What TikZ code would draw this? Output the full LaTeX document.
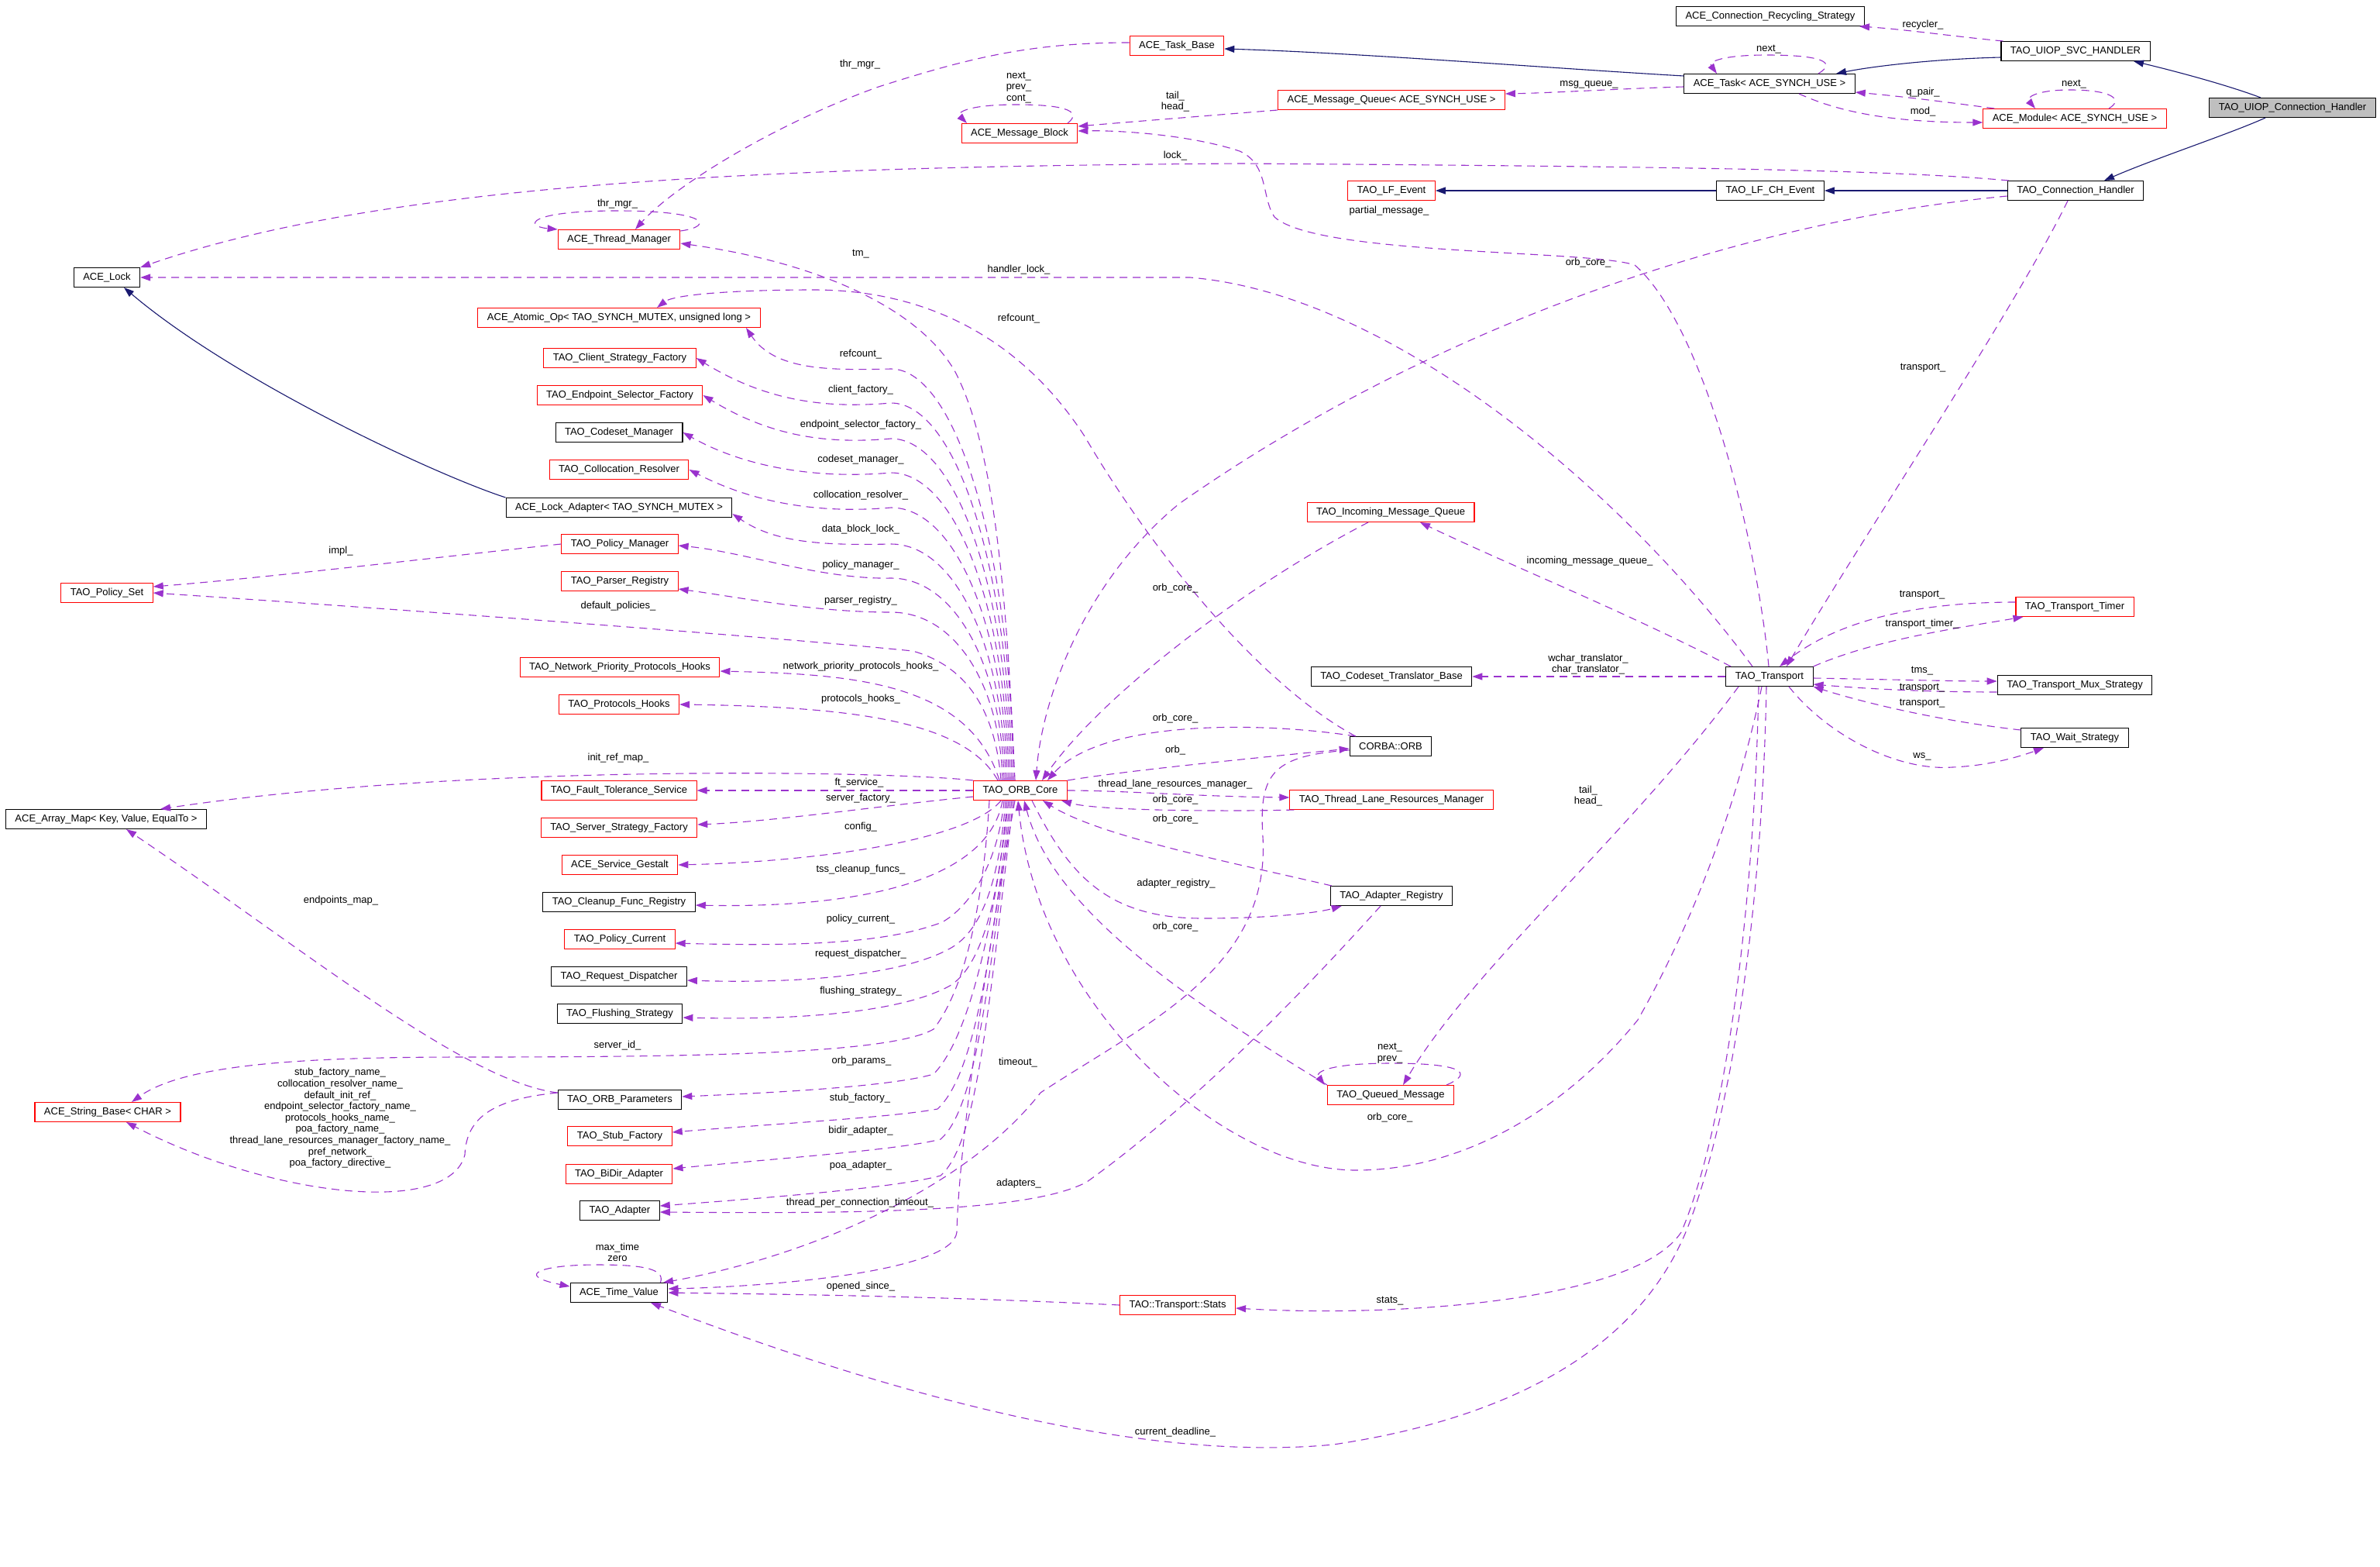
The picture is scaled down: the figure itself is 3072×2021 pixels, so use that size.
\documentclass[tikz,border=0pt]{standalone}
\usepackage{fontspec}
\setmainfont{Liberation Sans}
\usetikzlibrary{arrows.meta}

\definecolor{orchidline}{RGB}{154,50,205}
\definecolor{navyline}{RGB}{25,25,112}
\definecolor{curfill}{RGB}{191,191,191}
\newcommand{\dotfont}{\fontsize{13}{14.6}\selectfont}

\tikzset{
  cls/.style={draw=black, fill=white, line width=1.05pt, minimum height=25pt,
    inner xsep=12pt, inner ysep=2pt, font=\dotfont},
  redcls/.style={cls, draw=red},
  curcls/.style={cls, fill=curfill},
  member/.style={draw=orchidline, line width=1.1pt, dash pattern=on 10pt off 7pt,
    -{Triangle[length=13pt,width=9pt]}},
  inherit/.style={draw=navyline, line width=1.1pt, -{Triangle[length=13pt,width=9pt]}},
  lbl/.style={font=\dotfont, inner sep=0pt, align=center}
}

\begin{document}
\begin{tikzpicture}[x=1pt, y=-1pt]

\useasboundingbox (0,0) rectangle (3072,2021);
\fill[white] (0,0) rectangle (3072,2021);

%%%%%%%%%%%%%%%%%%%%%%%%%%%%%%% classes, top right
\node[cls] (recyc) at (2285,21) {ACE\_Connection\_Recycling\_Strategy};
\node[cls] (svch) at (2679,66) {TAO\_UIOP\_SVC\_HANDLER};
\node[cls] (task) at (2284,108) {ACE\_Task< ACE\_SYNCH\_USE >};
\node[redcls] (module) at (2678,153) {ACE\_Module< ACE\_SYNCH\_USE >};
\node[curcls] (uiopch) at (2959,139) {TAO\_UIOP\_Connection\_Handler};
\node[cls] (lfch) at (2285,246) {TAO\_LF\_CH\_Event};
\node[cls] (connh) at (2679,246) {TAO\_Connection\_Handler};
\node[redcls] (taskbase) at (1519,59) {ACE\_Task\_Base};
\node[redcls] (msgq) at (1796,129) {ACE\_Message\_Queue< ACE\_SYNCH\_USE >};
\node[redcls] (msgblock) at (1316,172) {ACE\_Message\_Block};
\node[redcls] (lfevent) at (1796,246) {TAO\_LF\_Event};

%%%%%%%%%%%%%%%%%%%%%%%%%%%%%%% left column
\node[cls] (acelock) at (138,358) {ACE\_Lock};
\node[redcls] (policyset) at (138,765) {TAO\_Policy\_Set};
\node[cls] (arraymap) at (137,1057) {ACE\_Array\_Map< Key, Value, EqualTo >};
\node[redcls] (stringbase) at (139,1435) {ACE\_String\_Base< CHAR >};

\node[redcls] (threadmgr) at (799,309) {ACE\_Thread\_Manager};
\node[redcls] (atomicop) at (799,410) {ACE\_Atomic\_Op< TAO\_SYNCH\_MUTEX, unsigned long >};
\node[redcls] (clientsf) at (800,462) {TAO\_Client\_Strategy\_Factory};
\node[redcls] (endpointsf) at (800,510) {TAO\_Endpoint\_Selector\_Factory};
\node[cls] (codesetmgr) at (799,558) {TAO\_Codeset\_Manager};
\node[redcls] (collocres) at (799,606) {TAO\_Collocation\_Resolver};
\node[cls] (lockadapter) at (799,655) {ACE\_Lock\_Adapter< TAO\_SYNCH\_MUTEX >};
\node[redcls] (policymgr) at (800,702) {TAO\_Policy\_Manager};
\node[redcls] (parserreg) at (800,750) {TAO\_Parser\_Registry};
\node[redcls] (nprotohooks) at (800,861) {TAO\_Network\_Priority\_Protocols\_Hooks};
\node[redcls] (protohooks) at (799,909) {TAO\_Protocols\_Hooks};
\node[redcls] (ftservice) at (799,1020) {TAO\_Fault\_Tolerance\_Service};
\node[redcls] (serverstrat) at (799,1068) {TAO\_Server\_Strategy\_Factory};
\node[redcls] (svcgestalt) at (800,1116) {ACE\_Service\_Gestalt};
\node[cls] (cleanup) at (799,1164) {TAO\_Cleanup\_Func\_Registry};
\node[redcls] (policycurrent) at (800,1212) {TAO\_Policy\_Current};
\node[cls] (reqdisp) at (799,1260) {TAO\_Request\_Dispatcher};
\node[cls] (flushing) at (800,1308) {TAO\_Flushing\_Strategy};
\node[cls] (orbparams) at (800,1419) {TAO\_ORB\_Parameters};
\node[redcls] (stubfactory) at (800,1466) {TAO\_Stub\_Factory};
\node[redcls] (bidir) at (799,1515) {TAO\_BiDir\_Adapter};
\node[cls] (taoadapter) at (800,1562) {TAO\_Adapter};
\node[cls] (timevalue) at (799,1668) {ACE\_Time\_Value};

%%%%%%%%%%%%%%%%%%%%%%%%%%%%%%% middle and right
\node[redcls] (orbcore) at (1317,1020) {TAO\_ORB\_Core};
\node[redcls] (imq) at (1795,661) {TAO\_Incoming\_Message\_Queue};
\node[cls] (codesettr) at (1796,873) {TAO\_Codeset\_Translator\_Base};
\node[cls] (orb) at (1795,963) {CORBA::ORB};
\node[redcls] (tlrm) at (1796,1032) {TAO\_Thread\_Lane\_Resources\_Manager};
\node[cls] (adapterreg) at (1796,1156) {TAO\_Adapter\_Registry};
\node[redcls] (queuedmsg) at (1795,1413) {TAO\_Queued\_Message};
\node[redcls] (stats) at (1520,1684) {TAO::Transport::Stats};
\node[cls] (transport) at (2284,873) {TAO\_Transport};
\node[redcls] (timer) at (2678,783) {TAO\_Transport\_Timer};
\node[cls] (mux) at (2678,884) {TAO\_Transport\_Mux\_Strategy};
\node[cls] (ws) at (2678,952) {TAO\_Wait\_Strategy};

%%%%%%%%%%%%%%%%%%%%%%%%%%%%%%% inheritance
\draw[inherit] ([xshift=-41pt]uiopch.north) .. controls (2870,108) and (2800,90) .. ([xshift=75pt]svch.south);
\draw[inherit] ([xshift=-35pt]uiopch.south) .. controls (2880,172) and (2780,205) .. ([xshift=37pt]connh.north);
\draw[inherit] ([yshift=-8pt]svch.west) .. controls (2500,76) and (2420,85) .. ([xshift=86pt]task.north);
\draw[inherit] ([yshift=10pt]task.west) .. controls (2000,88) and (1750,68) .. ([yshift=-4pt]taskbase.east);
\draw[inherit] (connh.west) -- (lfch.east);
\draw[inherit] (lfch.west) -- (lfevent.east);
\draw[inherit] (lockadapter.north west) .. controls (560,612) and (300,490) .. ([xshift=22pt]acelock.south);

%%%%%%%%%%%%%%%%%%%%%%%%%%%%%%% members, top
\draw[member] ([xshift=3pt]svch.north west) .. controls (2530,48) and (2460,38) .. ([xshift=115pt]recyc.south);
\draw[member] ([xshift=63pt]task.north) .. controls (2372,80) and (2350,71) .. (2280,71) .. controls (2222,71) and (2205,80) .. ([xshift=-68pt]task.north);
\draw[member] ([xshift=15pt]module.north west) .. controls (2500,130) and (2450,124) .. ([yshift=2pt]task.south east);
\draw[member] ([xshift=38pt]task.south) .. controls (2360,138) and (2420,158) .. ([yshift=-5pt]module.west);
\draw[member] ([xshift=44pt]module.north) .. controls (2742,128) and (2725,116) .. (2672,116) .. controls (2628,116) and (2615,126) .. ([xshift=-51pt]module.north);
\draw[member] ([yshift=-4pt]task.west) .. controls (2100,114) and (2000,120) .. ([yshift=8pt]msgq.east);
\draw[member] (msgq.south west) .. controls (1550,150) and (1450,158) .. ([yshift=9pt]msgblock.east);
\draw[member] ([xshift=62pt]msgblock.north) .. controls (1396,145) and (1380,135) .. (1312,135) .. controls (1250,135) and (1234,145) .. ([xshift=-68pt]msgblock.north);
\draw[member] ([yshift=4pt]taskbase.west) .. controls (1330,55) and (1250,75) .. (1134,112) .. controls (1000,160) and (870,240) .. ([xshift=21pt]threadmgr.north);
\draw[member] ([yshift=11pt]threadmgr.east) .. controls (922,292) and (915,272) .. (797,272) .. controls (680,272) and (676,292) .. (threadmgr.north west);
\draw[member] ([xshift=2pt]connh.north west) .. controls (2450,220) and (2200,215) .. (1600,211) .. controls (1000,215) and (500,235) .. (acelock.north east);
\draw[member] ([yshift=-7pt]connh.west) .. controls (2250,285) and (1850,420) .. (1522,650) .. controls (1400,750) and (1345,900) .. ([xshift=20pt]orbcore.north);
\draw[member] ([xshift=-10pt]connh.south) .. controls (2600,400) and (2400,700) .. ([xshift=22pt]transport.north);
\draw[member] ([xshift=-1pt]transport.north) .. controls (2268,700) and (2200,420) .. (2110,342) .. controls (2050,322) and (1700,330) .. (1645,280) .. controls (1628,255) and (1638,212) .. (1600,195) .. controls (1540,175) and (1450,168) .. ([yshift=3pt]msgblock.east);
\draw[member] ([xshift=-22pt]transport.north) .. controls (2100,640) and (1800,380) .. (1536,358) -- (acelock.east);

%%%%%%%%%%%%%%%%%%%%%%%%%%%%%%% ORB core, upward
\draw[member] ([xshift=-7pt]orbcore.north) .. controls (1300,780) and (1285,580) .. (1233,480) .. controls (1185,395) and (1050,338) .. ([yshift=-5pt]threadmgr.east);
\draw[member] ([xshift=8pt]orb.north west) .. controls (1620,880) and (1480,700) .. (1400,563) .. controls (1320,440) and (1200,374) .. (1050,374) .. controls (950,374) and (870,380) .. ([xshift=49pt]atomicop.north);
\draw[member] ([xshift=-9pt]orbcore.north) .. controls (1305,715) and (1235,476) .. (1150,476) .. controls (1070,478) and (1000,478) .. ([xshift=164pt]atomicop.south);
\draw[member] ([xshift=-11pt]orbcore.north) .. controls (1303,739) and (1235,520) .. (1150,520) .. controls (1060,528) and (985,515) .. (clientsf.east);
\draw[member] ([xshift=-13pt]orbcore.north) .. controls (1301,764) and (1235,566) .. (1150,566) .. controls (1060,574) and (990,560) .. (endpointsf.east);
\draw[member] ([xshift=-15pt]orbcore.north) .. controls (1299,789) and (1235,610) .. (1150,610) .. controls (1060,618) and (965,605) .. (codesetmgr.east);
\draw[member] ([xshift=-17pt]orbcore.north) .. controls (1297,813) and (1235,655) .. (1150,655) .. controls (1060,663) and (975,650) .. (collocres.east);
\draw[member] ([xshift=-19pt]orbcore.north) .. controls (1295,839) and (1235,702) .. (1150,702) .. controls (1060,704) and (1000,700) .. ([yshift=-8pt]lockadapter.east);
\draw[member] ([xshift=-21pt]orbcore.north) .. controls (1293,863) and (1235,746) .. (1150,746) .. controls (1060,748) and (960,712) .. ([yshift=-2pt]policymgr.east);
\draw[member] ([xshift=-23pt]orbcore.north) .. controls (1291,887) and (1235,790) .. (1150,790) .. controls (1050,790) and (950,770) .. ([yshift=-10pt]parserreg.east);
\draw[member] ([xshift=-25pt]orbcore.north) .. controls (1285,920) and (1250,860) .. (1178,840) .. controls (1000,822) and (500,785) .. (policyset.east);
\draw[member] ([xshift=-27pt]orbcore.north) .. controls (1250,880) and (1100,870) .. ([yshift=-5pt]nprotohooks.east);
\draw[member] ([xshift=-29pt]orbcore.north) .. controls (1245,930) and (1100,912) .. (protohooks.east);
\draw[member] (orbcore.north west) .. controls (1150,995) and (600,985) .. ([xshift=-60pt]arraymap.north east);
\draw[member] (policymgr.west) .. controls (600,715) and (350,745) .. ([yshift=8pt]policyset.east);

%%%%%%%%%%%%%%%%%%%%%%%%%%%%%%% ORB core, downward
\draw[member] (orbcore.west) -- (ftservice.east);
\draw[member] ([yshift=-8pt]orbcore.west) .. controls (1150,1038) and (1000,1060) .. ([yshift=4pt]serverstrat.east);
\draw[member] ([xshift=-25pt]orbcore.south) .. controls (1250,1085) and (1050,1112) .. (svcgestalt.east);
\draw[member] ([xshift=-23pt]orbcore.south) .. controls (1275,1140) and (1100,1172) .. ([yshift=-4pt]cleanup.east);
\draw[member] ([xshift=-21pt]orbcore.south) .. controls (1290,1100) and (1260,1165) .. (1216,1190) .. controls (1150,1215) and (1050,1222) .. ([yshift=-5pt]policycurrent.east);
\draw[member] ([xshift=-19pt]orbcore.south) .. controls (1290,1130) and (1270,1200) .. (1226,1224) .. controls (1170,1255) and (1050,1270) .. ([yshift=-5pt]reqdisp.east);
\draw[member] ([xshift=-17pt]orbcore.south) .. controls (1290,1150) and (1270,1245) .. (1226,1272) .. controls (1170,1303) and (1050,1317) .. ([yshift=-5pt]flushing.east);
\draw[member] ([xshift=-40pt]orbcore.south) .. controls (1270,1150) and (1250,1270) .. (1205,1328) .. controls (1150,1360) and (900,1364) .. (600,1364) .. controls (400,1364) and (240,1372) .. ([xshift=31pt]stringbase.north);
\draw[member] ([xshift=-15pt]orbcore.south) .. controls (1282,1200) and (1250,1340) .. (1205,1386) .. controls (1150,1402) and (1000,1410) .. ([yshift=4pt]orbparams.east);
\draw[member] ([xshift=-13pt]orbcore.south) .. controls (1278,1250) and (1255,1390) .. (1210,1431) .. controls (1150,1442) and (1000,1450) .. ([yshift=5pt]stubfactory.east);
\draw[member] ([xshift=-11pt]orbcore.south) .. controls (1276,1270) and (1260,1430) .. (1214,1470) .. controls (1160,1484) and (1000,1495) .. ([yshift=7pt]bidir.east);
\draw[member] ([xshift=-9pt]orbcore.south) .. controls (1276,1300) and (1262,1475) .. (1214,1517) .. controls (1160,1532) and (1000,1545) .. ([yshift=6pt]taoadapter.east);
\draw[member] ([xshift=-7pt]orbcore.south) .. controls (1262,1300) and (1237,1500) .. (1235,1590) .. controls (1230,1640) and (1000,1660) .. ([yshift=5pt]timevalue.east);
\draw[member] ([yshift=9pt]orbparams.west) .. controls (600,1395) and (400,1230) .. ([xshift=26pt]arraymap.south);
\draw[member] ([yshift=9pt]orbparams.west) .. controls (640,1418) and (602,1440) .. (600,1490) .. controls (580,1570) and (350,1545) .. ([xshift=24pt]stringbase.south);

%%%%%%%%%%%%%%%%%%%%%%%%%%%%%%% transport side
\draw[member] ([xshift=-50pt]transport.north) .. controls (2100,790) and (1950,730) .. ([xshift=38pt]imq.south);
\draw[member] ([xshift=-29pt]imq.south) .. controls (1600,760) and (1420,900) .. ([xshift=28pt]orbcore.north);
\draw[member] (transport.west) -- (codesettr.east);
\draw[member] ([xshift=8pt]orb.north west) .. controls (1620,930) and (1420,930) .. ([xshift=35pt]orbcore.north);
\draw[member] (orbcore.north east) .. controls (1450,995) and (1600,980) .. ([yshift=-3pt]orb.west);
\draw[member] (orbcore.east) .. controls (1450,1020) and (1550,1028) .. ([yshift=3pt]tlrm.west);
\draw[member] ([xshift=6pt]tlrm.south west) .. controls (1600,1047) and (1420,1047) .. ([xshift=53pt]orbcore.south);
\draw[member] ([xshift=2pt]adapterreg.north west) .. controls (1600,1115) and (1420,1080) .. ([xshift=29pt]orbcore.south);
\draw[member] ([xshift=15pt]orbcore.south) .. controls (1380,1130) and (1430,1185) .. (1552,1185) .. controls (1640,1185) and (1700,1178) .. ([xshift=15pt]adapterreg.south west);
\draw[member] ([xshift=-14pt]adapterreg.south) .. controls (1700,1260) and (1550,1420) .. (1403,1525) .. controls (1330,1565) and (1100,1566) .. ([yshift=-2pt]taoadapter.east);
\draw[member] ([yshift=-5pt]orb.west) .. controls (1640,975) and (1625,1000) .. (1630,1080) .. controls (1640,1250) and (1480,1320) .. (1343,1410) .. controls (1250,1530) and (1050,1620) .. ([xshift=57pt]timevalue.north);
\draw[member] (queuedmsg.north west) .. controls (1550,1300) and (1360,1180) .. ([xshift=5pt]orbcore.south);
\draw[member] ([xshift=-10pt]transport.south) .. controls (2240,1050) and (2180,1200) .. (2114,1316) .. controls (2030,1420) and (1900,1510) .. (1750,1510) .. controls (1580,1510) and (1340,1300) .. ([xshift=-3pt]orbcore.south);
\draw[member] ([xshift=-40pt]transport.south) .. controls (2100,1080) and (1900,1250) .. ([xshift=16pt]queuedmsg.north);
\draw[member] ([xshift=-10pt]queuedmsg.north east) .. controls (1902,1385) and (1890,1372) .. (1795,1372) .. controls (1722,1372) and (1696,1382) .. ([xshift=-3pt]queuedmsg.north west);
\draw[member] ([xshift=-14pt]transport.south) .. controls (2265,1150) and (2230,1450) .. (2170,1590) .. controls (2110,1680) and (1800,1700) .. ([yshift=-4pt]stats.east);
\draw[member] ([xshift=-4pt]transport.south) .. controls (2275,1150) and (2240,1420) .. (2181,1577) .. controls (2120,1740) and (1950,1830) .. (1721,1864) .. controls (1450,1890) and (1100,1780) .. ([xshift=41pt]timevalue.south);
\draw[member] (stats.west) .. controls (1200,1672) and (1000,1670) .. (timevalue.east);
\draw[member] ([xshift=-10pt]timevalue.north east) .. controls (860,1635) and (820,1632) .. (770,1632) .. controls (700,1632) and (662,1645) .. ([yshift=8pt]timevalue.west);
\draw[member] (transport.north east) .. controls (2420,825) and (2530,810) .. ([xshift=10pt]timer.south west);
\draw[member] ([yshift=6pt]timer.west) .. controls (2450,777) and (2360,810) .. ([xshift=13pt]transport.north);
\draw[member] ([yshift=-2pt]transport.east) .. controls (2450,877) and (2520,879) .. ([yshift=5pt]mux.west);
\draw[member] ([yshift=-9pt]mux.west) .. controls (2480,893) and (2400,888) .. ([yshift=-10pt]transport.east);
\draw[member] ([yshift=10pt]ws.west) .. controls (2500,930) and (2400,905) .. (transport.south east);
\draw[member] ([xshift=25pt]transport.south) .. controls (2360,950) and (2450,995) .. (2520,990) .. controls (2570,988) and (2610,975) .. ([xshift=-40pt]ws.south);

%%%%%%%%%%%%%%%%%%%%%%%%%%%%%%% edge labels
\node[lbl] (lrecycler) at (2482,32) {recycler\_};
\node[lbl] (ltasknext) at (2283,64) {next\_};
\node[lbl] (lqpair) at (2482,119) {q\_pair\_};
\node[lbl] (lmod) at (2482,144) {mod\_};
\node[lbl] (lmodnext) at (2677,109) {next\_};
\node[lbl] (lmsgqueue) at (2051,109) {msg\_queue\_};
\node[lbl] (ltailhead) at (1517,131) {tail\_\\head\_};
\node[lbl] (lblocklinks) at (1315,113) {next\_\\prev\_\\cont\_};
\node[lbl] (lthrmgr) at (1110,83) {thr\_mgr\_};
\node[lbl] (llock) at (1517,201) {lock\_};
\node[lbl] (lpartial) at (1793,272) {partial\_message\_};
\node[lbl] (lthrmgrloop) at (797,263) {thr\_mgr\_};
\node[lbl] (ltm) at (1111,328) {tm\_};
\node[lbl] (lhandlerlock) at (1315,348) {handler\_lock\_};
\node[lbl] (lchorbcore) at (2050,339) {orb\_core\_};
\node[lbl] (lchtransport) at (2482,475) {transport\_};
\node[lbl] (lorbrefcount) at (1315,411) {refcount\_};
\node[lbl] (lrefcount) at (1111,457) {refcount\_};
\node[lbl] (lclient) at (1111,503) {client\_factory\_};
\node[lbl] (lendpoint) at (1111,548) {endpoint\_selector\_factory\_};
\node[lbl] (lcodeset) at (1111,593) {codeset\_manager\_};
\node[lbl] (lcolloc) at (1111,639) {collocation\_resolver\_};
\node[lbl] (ldatablock) at (1111,683) {data\_block\_lock\_};
\node[lbl] (limpl) at (440,711) {impl\_};
\node[lbl] (lpolicymgr) at (1111,729) {policy\_manager\_};
\node[lbl] (limqorbcore) at (1517,759) {orb\_core\_};
\node[lbl] (limq) at (2052,724) {incoming\_message\_queue\_};
\node[lbl] (ltimertransport) at (2481,768) {transport\_};
\node[lbl] (lparser) at (1111,775) {parser\_registry\_};
\node[lbl] (ldefpol) at (798,782) {default\_policies\_};
\node[lbl] (ltimer) at (2481,805) {transport\_timer\_};
\node[lbl] (ltranslators) at (2050,857) {wchar\_translator\_\\char\_translator\_};
\node[lbl] (lnprio) at (1111,860) {network\_priority\_protocols\_hooks\_};
\node[lbl] (ltms) at (2481,866) {tms\_};
\node[lbl] (lmuxtransport) at (2481,888) {transport\_};
\node[lbl] (lprotohooks) at (1111,902) {protocols\_hooks\_};
\node[lbl] (lwstransport) at (2481,908) {transport\_};
\node[lbl] (lorborbcore) at (1517,927) {orb\_core\_};
\node[lbl] (lorb) at (1517,968) {orb\_};
\node[lbl] (lws) at (2481,976) {ws\_};
\node[lbl] (linitref) at (798,978) {init\_ref\_map\_};
\node[lbl] (lft) at (1109,1010) {ft\_service\_};
\node[lbl] (ltlrm) at (1517,1012) {thread\_lane\_resources\_manager\_};
\node[lbl] (lqueue) at (2050,1027) {tail\_\\head\_};
\node[lbl] (lserverfactory) at (1111,1030) {server\_factory\_};
\node[lbl] (ltlrmorbcore) at (1517,1032) {orb\_core\_};
\node[lbl] (lregorbcore) at (1517,1057) {orb\_core\_};
\node[lbl] (lconfig) at (1111,1067) {config\_};
\node[lbl] (ltss) at (1111,1122) {tss\_cleanup\_funcs\_};
\node[lbl] (ladapterreg) at (1518,1140) {adapter\_registry\_};
\node[lbl] (lendpoints) at (440,1162) {endpoints\_map\_};
\node[lbl] (lpolcur) at (1111,1186) {policy\_current\_};
\node[lbl] (lqmorbcore) at (1517,1196) {orb\_core\_};
\node[lbl] (lreqdisp) at (1111,1231) {request\_dispatcher\_};
\node[lbl] (lflushing) at (1111,1279) {flushing\_strategy\_};
\node[lbl] (lserverid) at (797,1349) {server\_id\_};
\node[lbl] (lqmlinks) at (1794,1359) {next\_\\prev\_};
\node[lbl] (lorbparams) at (1112,1369) {orb\_params\_};
\node[lbl] (ltimeout) at (1314,1371) {timeout\_};
\node[lbl] (lstubfactory) at (1110,1417) {stub\_factory\_};
\node[lbl] (lnames) at (439,1443) {stub\_factory\_name\_\\collocation\_resolver\_name\_\\default\_init\_ref\_\\endpoint\_selector\_factory\_name\_\\protocols\_hooks\_name\_\\poa\_factory\_name\_\\thread\_lane\_resources\_manager\_factory\_name\_\\pref\_network\_\\poa\_factory\_directive\_};
\node[lbl] (ltrorbcore) at (1794,1442) {orb\_core\_};
\node[lbl] (lbidir) at (1111,1459) {bidir\_adapter\_};
\node[lbl] (lpoa) at (1111,1504) {poa\_adapter\_};
\node[lbl] (ladapters) at (1315,1527) {adapters\_};
\node[lbl] (ltpctimeout) at (1110,1552) {thread\_per\_connection\_timeout\_};
\node[lbl] (ltimeloop) at (797,1616) {max\_time\\zero};
\node[lbl] (lopened) at (1111,1660) {opened\_since\_};
\node[lbl] (lstats) at (1794,1679) {stats\_};
\node[lbl] (ldeadline) at (1517,1848) {current\_deadline\_};

\end{tikzpicture}
\end{document}
